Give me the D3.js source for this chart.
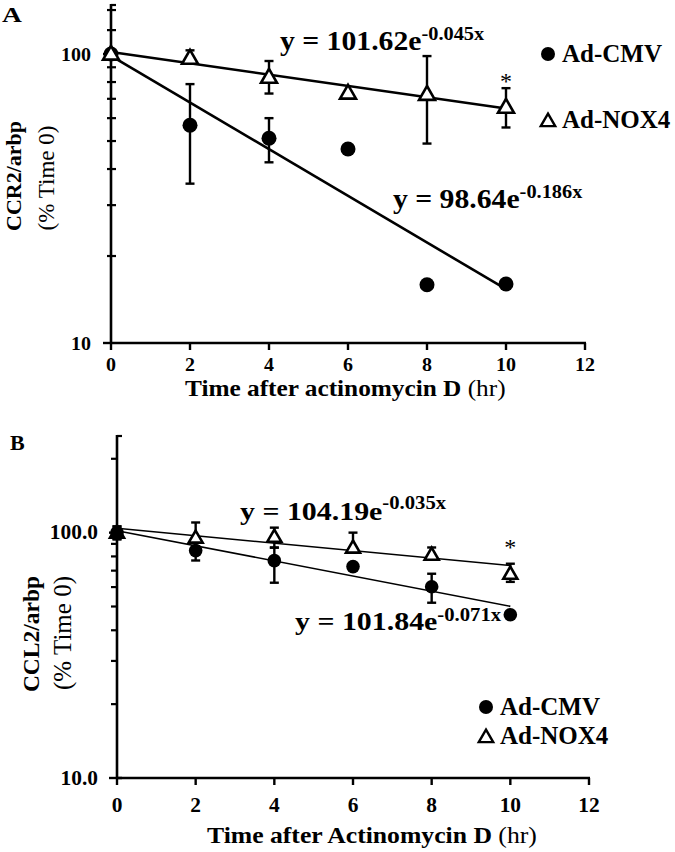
<!DOCTYPE html>
<html><head><meta charset="utf-8">
<script src="https://cdn.jsdelivr.net/npm/d3@7"></script>
<style>body{margin:0;background:#fff}svg{display:block;font-family:"Liberation Serif","Times New Roman",serif}</style>
</head><body>
<svg id="c" width="675" height="852"></svg>
<script>
// ---------- data ----------
const times = [0, 2, 4, 6, 8, 10];
const xTicks = [0, 2, 4, 6, 8, 10, 12];
// Panel A (CCR2)
const cmvA = [100, 56.7, 51.1, 46.9, 15.9, 16.0];
const cmvAHi = [null, 78.7, 60.0, null, null, null];
const cmvALo = [null, 35.6, 42.2, null, null, null];
const noxA = [100, 96.8, 83.2, 73.3, 72.6, 65.5];
const noxAHi = [null, 103, 94.6, null, 98.4, 76.2];
const noxALo = [null, 93, 73, null, 49, 55.7];
const fitCmvA = [98.64, -0.186];
const fitNoxA = [101.62, -0.045];
const yMajorA = [10, 100];
const yMajorLabelsA = ["10", "100"];
const yMinorA = [20, 30, 40, 50, 60, 70, 80, 90, 121, 142];
// Panel B (CCL2)
const cmvB = [100, 84.5, 76.9, 72.7, 60.2, 46.3];
const cmvBHi = [106, 91, 86.9, null, 68, null];
const cmvBLo = [94, 77, 62.5, null, 51.8, null];
const noxB = [100, 95.4, 96.3, 86.9, 81.3, 68];
const noxBHi = [106, 110, 104.8, 100, 87, 74.7];
const noxBLo = [94, 88, 86.9, 82.8, 77.6, 63];
const fitCmvB = [101.84, -0.071];
const fitNoxB = [104.19, -0.035];
const yMajorB = [10, 100];
const yMajorLabelsB = ["10.0", "100.0"];
const yMinorB = [20, 30, 40, 50, 60, 70, 80, 90, 200];

const svg = d3.select("#c");

function txt(g, x, y, size, sx, anchor) {
  return g.append("text").attr("transform", `translate(${x},${y}) scale(${sx},1)`)
    .attr("font-size", size).attr("text-anchor", anchor || "start");
}

function panel(o) {
  const x = d3.scaleLinear().domain([0, 12]).range(o.xr);
  const y = d3.scaleLog().domain(o.yd).range(o.yr);
  const g = svg.append("g");
  const x0 = x(0), yBot = y(o.yd[0]);
  // axes
  g.append("line").attr("x1", x0).attr("x2", x0).attr("y1", y(o.yd[1])).attr("y2", yBot)
    .attr("stroke", "#000").attr("stroke-width", 2.6);
  g.append("line").attr("x1", x0).attr("x2", x(12) + 1).attr("y1", yBot).attr("y2", yBot)
    .attr("stroke", "#000").attr("stroke-width", 2.6);
  // x ticks
  xTicks.forEach(t => {
    g.append("line").attr("x1", x(t)).attr("x2", x(t)).attr("y1", yBot).attr("y2", yBot + 7)
      .attr("stroke", "#000").attr("stroke-width", 2.4);
    txt(g, x(t), o.xLabY, o.tickSize, o.tickSx, "middle").attr("font-weight", "bold").text(t);
  });
  // y major ticks
  o.yMajor.forEach((v, i) => {
    g.append("line").attr("x1", x0 - 8).attr("x2", x0 + o.majIn).attr("y1", y(v)).attr("y2", y(v))
      .attr("stroke", "#000").attr("stroke-width", 2.4);
    txt(g, o.yLabX, y(v) + 6.5, o.tickSize, o.tickSx, "end").attr("font-weight", "bold").text(o.yMajorLabels[i]);
  });
  o.yMinor.forEach(v => {
    g.append("line").attr("x1", x0 + o.minL).attr("x2", x0 + o.minR).attr("y1", y(v)).attr("y2", y(v))
      .attr("stroke", "#000").attr("stroke-width", 2.2);
  });
  g.append("line").attr("x1", x0).attr("x2", x0 + 5).attr("y1", y(o.yd[1]) + 1).attr("y2", y(o.yd[1]) + 1)
    .attr("stroke", "#000").attr("stroke-width", 2.2);

  // fit lines
  o.fits.forEach(f => {
    g.append("line").attr("x1", x(0)).attr("y1", y(f[0])).attr("x2", x(10)).attr("y2", y(f[0] * Math.exp(f[1] * 10)))
      .attr("stroke", "#000").attr("stroke-width", o.fitW);
  });

  function errBars(vals, hi, lo) {
    vals.forEach((v, i) => {
      if (hi[i] == null) return;
      const cx = x(times[i]);
      g.append("line").attr("x1", cx).attr("x2", cx).attr("y1", y(hi[i])).attr("y2", y(lo[i]))
        .attr("stroke", "#000").attr("stroke-width", 2.4);
      [hi[i], lo[i]].forEach(e => g.append("line").attr("x1", cx - 4.5).attr("x2", cx + 4.5)
        .attr("y1", y(e)).attr("y2", y(e)).attr("stroke", "#000").attr("stroke-width", 2.4));
    });
  }
  const tri = d3.symbol().type(d3.symbolTriangle).size(o.triSize);
  function drawCmv() {
    errBars(o.cmv, o.cmvHi, o.cmvLo);
    g.selectAll(null).data(o.cmv).enter().append("circle")
      .attr("cx", (d, i) => x(times[i])).attr("cy", d => y(d)).attr("r", o.r).attr("fill", "#000");
  }
  function drawNox() {
    errBars(o.nox, o.noxHi, o.noxLo);
    g.selectAll(null).data(o.nox).enter().append("path").attr("d", tri)
      .attr("transform", (d, i) => `translate(${x(times[i])},${y(d) + 1})`)
      .attr("fill", "#fff").attr("stroke", "#000").attr("stroke-width", 2.6);
  }
  if (o.circlesFirst) { drawCmv(); drawNox(); } else { drawNox(); drawCmv(); }

  // asterisk
  txt(g, x(10), o.starY, 24, 1, "middle").text("*");

  // equations
  o.eqs.forEach(e => {
    const t = txt(g, e.x, e.y, o.eqSize, o.eqSx).attr("font-weight", "bold");
    t.append("tspan").text(e.main);
    t.append("tspan").attr("dy", e.dy).attr("font-size", o.supSize).text(e.sup);
  });

  // legend
  g.append("circle").attr("cx", o.legX).attr("cy", o.legY1).attr("r", 7).attr("fill", "#000");
  g.append("path").attr("d", d3.symbol().type(d3.symbolTriangle).size(90))
    .attr("transform", `translate(${o.legX},${o.legY2 + 1})`).attr("fill", "#fff").attr("stroke", "#000").attr("stroke-width", 2.4);
  txt(g, o.legX + 14, o.legY1 + 8, 25, 1).attr("font-weight", "bold").text("Ad-CMV");
  txt(g, o.legX + 14, o.legY2 + 7, 25, 1).attr("font-weight", "bold").text("Ad-NOX4");

  // x title
  const xt = txt(g, o.xTitleX, o.xTitleY, o.xTitleSize, o.xTitleSx);
  xt.append("tspan").attr("font-weight", "bold").text(o.xTitle);
  xt.append("tspan").text(" (hr)");
  // y titles
  g.append("text").attr("transform", `translate(${o.yt1[0]},${o.yt1[1]}) rotate(-90)`).attr("text-anchor", "middle")
    .attr("font-size", o.yt1[2]).attr("font-weight", "bold").text(o.yTitle);
  g.append("text").attr("transform", `translate(${o.yt2[0]},${o.yt2[1]}) rotate(-90)`).attr("text-anchor", "middle")
    .attr("font-size", o.yt2[2]).text("(% Time 0)");
  // panel letter
  txt(g, o.letter[0], o.letter[1], 22, o.letter[3]).attr("font-weight", "bold").text(o.letter[2]);
}

panel({
  xr: [111, 585], yd: [10, 149], yr: [343, 4],
  cmv: cmvA, cmvHi: cmvAHi, cmvLo: cmvALo, nox: noxA, noxHi: noxAHi, noxLo: noxALo,
  fits: [fitCmvA, fitNoxA], fitW: 2.6, r: 7.5, triSize: 110, circlesFirst: true,
  yMajor: yMajorA, yMajorLabels: yMajorLabelsA, yMinor: yMinorA, majIn: 0, minL: -4, minR: 5,
  tickSize: 19, tickSx: 1.05,
  xLabY: 371, yLabX: 91, starY: 89,
  eqSize: 27, eqSx: 1.1, supSize: 18.5,
  eqs: [{x: 280, y: 50, main: "y = 101.62e", sup: "-0.045x", dy: -10},
        {x: 393, y: 208, main: "y = 98.64e", sup: "-0.186x", dy: -10}],
  legX: 548, legY1: 54, legY2: 121,
  xTitle: "Time after actinomycin D", xTitleX: 185, xTitleY: 396, xTitleSize: 23, xTitleSx: 1.1,
  yTitle: "CCR2/arbp", yt1: [21, 176, 22], yt2: [54, 178, 23], letter: [2, 22, "A", 1.25]
});
panel({
  xr: [117, 589], yd: [10, 250], yr: [778, 435],
  cmv: cmvB, cmvHi: cmvBHi, cmvLo: cmvBLo, nox: noxB, noxHi: noxBHi, noxLo: noxBLo,
  fits: [fitCmvB, fitNoxB], fitW: 1.6, r: 6.8, triSize: 85, circlesFirst: false,
  yMajor: yMajorB, yMajorLabels: yMajorLabelsB, yMinor: yMinorB, majIn: 5, minL: -6, minR: 0,
  tickSize: 20, tickSx: 1.07,
  xLabY: 812, yLabX: 98, starY: 555,
  eqSize: 26, eqSx: 1.15, supSize: 18,
  eqs: [{x: 240, y: 520, main: "y = 104.19e", sup: "-0.035x", dy: -11},
        {x: 295, y: 630, main: "y = 101.84e", sup: "-0.071x", dy: -9}],
  legX: 486, legY1: 707, legY2: 737,
  xTitle: "Time after Actinomycin D", xTitleX: 207, xTitleY: 843, xTitleSize: 24, xTitleSx: 1.07,
  yTitle: "CCL2/arbp", yt1: [39, 634, 23.5], yt2: [71, 633, 25], letter: [10, 450, "B", 1]
});
</script>
</body></html>
